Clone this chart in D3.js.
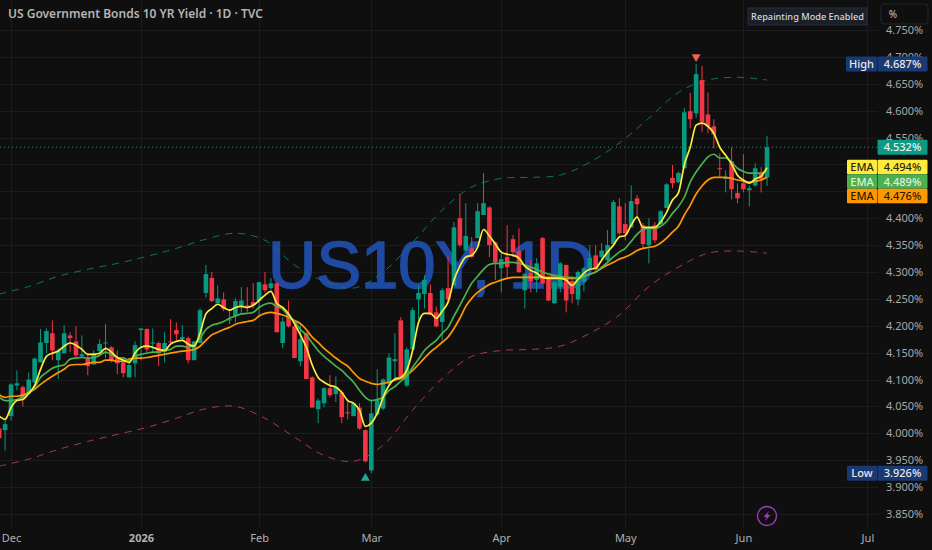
<!DOCTYPE html>
<html><head><meta charset="utf-8">
<script src="https://cdn.jsdelivr.net/npm/d3@7/dist/d3.min.js"></script>
<style>html,body{margin:0;padding:0;background:#0f0f0f}svg{display:block}text{font-family:"Noto Sans",sans-serif}</style>
</head><body><svg id="c" width="932" height="550"></svg>
<script>
const opens=[4.009,4.006,4.032,4.089,4.086,4.074,4.095,4.132,4.168,4.186,4.136,4.149,4.182,4.171,4.143,4.140,4.128,4.153,4.168,4.160,4.140,4.132,4.104,4.130,4.192,4.194,4.168,4.168,4.151,4.171,4.192,4.175,4.177,4.136,4.168,4.261,4.289,4.242,4.249,4.210,4.218,4.236,4.238,4.244,4.246,4.277,4.270,4.279,4.168,4.220,4.199,4.134,4.186,4.104,4.045,4.056,4.084,4.073,4.076,4.039,4.032,4.048,4.006,3.931,4.035,4.046,4.093,4.134,4.210,4.089,4.156,4.249,4.259,4.261,4.225,4.207,4.270,4.275,4.400,4.340,4.344,4.363,4.406,4.420,4.355,4.307,4.328,4.361,4.339,4.266,4.298,4.285,4.363,4.290,4.242,4.273,4.313,4.283,4.249,4.281,4.307,4.331,4.328,4.322,4.352,4.422,4.389,4.383,4.437,4.387,4.350,4.387,4.389,4.419,4.475,4.467,4.493,4.599,4.595,4.657,4.593,4.571,4.493,4.473,4.506,4.447,4.465,4.452,4.461,4.484,4.476];
const highs=[4.015,4.028,4.093,4.117,4.089,4.113,4.141,4.194,4.195,4.210,4.158,4.201,4.188,4.199,4.182,4.149,4.154,4.175,4.203,4.162,4.154,4.140,4.140,4.171,4.195,4.195,4.195,4.171,4.188,4.212,4.206,4.201,4.180,4.171,4.232,4.313,4.300,4.275,4.262,4.231,4.251,4.272,4.272,4.279,4.281,4.300,4.289,4.281,4.216,4.247,4.201,4.205,4.188,4.106,4.065,4.086,4.108,4.106,4.080,4.058,4.058,4.056,4.007,4.061,4.119,4.102,4.149,4.186,4.216,4.160,4.234,4.275,4.294,4.277,4.236,4.270,4.329,4.393,4.445,4.428,4.365,4.428,4.484,4.422,4.357,4.337,4.387,4.369,4.381,4.298,4.322,4.326,4.365,4.292,4.283,4.318,4.314,4.290,4.303,4.309,4.350,4.350,4.354,4.378,4.434,4.437,4.428,4.461,4.443,4.391,4.400,4.393,4.415,4.465,4.499,4.487,4.605,4.633,4.687,4.683,4.634,4.584,4.521,4.489,4.532,4.465,4.519,4.461,4.502,4.495,4.553];
const lows=[3.983,3.968,4.024,4.080,4.050,4.072,4.093,4.132,4.149,4.136,4.101,4.149,4.151,4.141,4.141,4.108,4.128,4.151,4.140,4.132,4.110,4.104,4.104,4.104,4.136,4.151,4.149,4.125,4.132,4.168,4.173,4.173,4.130,4.136,4.168,4.252,4.244,4.242,4.227,4.203,4.206,4.223,4.225,4.232,4.216,4.262,4.266,4.188,4.158,4.197,4.140,4.125,4.101,4.048,4.019,4.048,4.067,4.058,4.019,4.026,4.032,4.007,3.946,3.926,4.033,4.043,4.089,4.099,4.102,4.086,4.154,4.212,4.232,4.220,4.197,4.169,4.242,4.275,4.346,4.337,4.326,4.363,4.406,4.328,4.285,4.262,4.288,4.328,4.298,4.232,4.262,4.262,4.277,4.246,4.240,4.262,4.225,4.242,4.238,4.264,4.294,4.303,4.322,4.318,4.350,4.368,4.359,4.383,4.402,4.344,4.316,4.354,4.387,4.419,4.456,4.465,4.491,4.567,4.586,4.560,4.558,4.530,4.476,4.448,4.435,4.428,4.448,4.422,4.458,4.448,4.460];
const closes=[3.991,4.017,4.091,4.093,4.065,4.100,4.139,4.169,4.190,4.154,4.153,4.186,4.177,4.145,4.147,4.125,4.149,4.166,4.169,4.136,4.130,4.112,4.127,4.164,4.195,4.156,4.169,4.149,4.168,4.169,4.184,4.179,4.136,4.171,4.229,4.296,4.246,4.251,4.231,4.212,4.246,4.247,4.234,4.238,4.281,4.266,4.279,4.188,4.208,4.199,4.140,4.175,4.101,4.048,4.061,4.084,4.071,4.086,4.030,4.037,4.056,4.009,3.948,4.037,4.063,4.100,4.141,4.138,4.104,4.156,4.229,4.261,4.285,4.221,4.199,4.266,4.249,4.383,4.350,4.367,4.328,4.413,4.428,4.350,4.318,4.324,4.309,4.337,4.300,4.296,4.283,4.316,4.279,4.247,4.281,4.316,4.247,4.259,4.300,4.307,4.326,4.305,4.340,4.350,4.430,4.372,4.372,4.432,4.426,4.352,4.383,4.359,4.413,4.463,4.465,4.484,4.597,4.584,4.668,4.579,4.571,4.556,4.491,4.476,4.454,4.437,4.454,4.456,4.493,4.473,4.532];
const emaYellow=[4.032,4.026,4.048,4.061,4.063,4.074,4.089,4.119,4.143,4.149,4.153,4.162,4.168,4.164,4.156,4.147,4.147,4.149,4.158,4.151,4.141,4.136,4.132,4.149,4.160,4.162,4.160,4.156,4.154,4.166,4.171,4.173,4.166,4.162,4.186,4.222,4.232,4.240,4.234,4.229,4.234,4.236,4.234,4.238,4.247,4.257,4.264,4.242,4.234,4.222,4.204,4.183,4.160,4.127,4.104,4.095,4.089,4.086,4.076,4.061,4.056,4.043,4.013,4.019,4.037,4.067,4.089,4.101,4.104,4.117,4.154,4.206,4.223,4.223,4.214,4.227,4.244,4.285,4.311,4.328,4.331,4.346,4.379,4.367,4.352,4.337,4.333,4.331,4.326,4.311,4.303,4.298,4.290,4.288,4.288,4.288,4.285,4.275,4.286,4.298,4.305,4.307,4.322,4.337,4.350,4.365,4.368,4.387,4.402,4.383,4.383,4.383,4.393,4.411,4.434,4.447,4.499,4.532,4.573,4.577,4.571,4.558,4.532,4.517,4.501,4.480,4.471,4.465,4.473,4.478,4.494];
const emaGreen=[4.067,4.061,4.061,4.063,4.067,4.074,4.086,4.104,4.113,4.121,4.125,4.127,4.138,4.140,4.141,4.140,4.141,4.145,4.151,4.147,4.141,4.140,4.136,4.143,4.147,4.149,4.151,4.151,4.154,4.156,4.162,4.162,4.160,4.166,4.177,4.193,4.201,4.204,4.208,4.214,4.218,4.222,4.223,4.225,4.234,4.240,4.242,4.236,4.231,4.218,4.208,4.193,4.183,4.168,4.154,4.143,4.134,4.125,4.117,4.106,4.095,4.080,4.067,4.061,4.063,4.067,4.080,4.087,4.097,4.106,4.123,4.138,4.154,4.164,4.173,4.186,4.197,4.218,4.238,4.259,4.279,4.292,4.305,4.314,4.316,4.316,4.318,4.318,4.316,4.313,4.309,4.305,4.300,4.296,4.294,4.292,4.290,4.290,4.288,4.292,4.296,4.300,4.309,4.318,4.328,4.337,4.344,4.357,4.370,4.379,4.381,4.381,4.385,4.394,4.409,4.422,4.439,4.467,4.486,4.501,4.514,4.519,4.512,4.512,4.504,4.493,4.487,4.484,4.484,4.484,4.489];
const emaOrange=[4.072,4.067,4.069,4.069,4.071,4.076,4.082,4.091,4.099,4.106,4.113,4.119,4.127,4.128,4.128,4.130,4.132,4.132,4.136,4.136,4.134,4.134,4.138,4.140,4.140,4.141,4.143,4.145,4.147,4.149,4.151,4.153,4.154,4.156,4.162,4.173,4.183,4.188,4.193,4.197,4.203,4.206,4.208,4.210,4.218,4.223,4.225,4.223,4.220,4.216,4.210,4.204,4.193,4.179,4.169,4.158,4.149,4.140,4.132,4.125,4.113,4.102,4.097,4.093,4.091,4.093,4.095,4.099,4.102,4.108,4.117,4.128,4.140,4.151,4.160,4.169,4.179,4.195,4.214,4.236,4.251,4.262,4.270,4.277,4.281,4.285,4.288,4.290,4.290,4.290,4.290,4.290,4.290,4.290,4.290,4.290,4.288,4.288,4.288,4.292,4.296,4.300,4.307,4.313,4.318,4.324,4.328,4.333,4.340,4.344,4.346,4.348,4.354,4.363,4.374,4.385,4.406,4.424,4.445,4.460,4.471,4.476,4.476,4.476,4.474,4.471,4.469,4.467,4.469,4.471,4.476];
const bandDays=[0,5,10,15,20,25,30,35,40,45,50,55,60,65,70,75,80,85,90,95,100,105,110,115,120,125,130];
const bandUpper=[4.259,4.273,4.292,4.305,4.316,4.329,4.344,4.361,4.372,4.359,4.313,4.283,4.270,4.300,4.355,4.415,4.458,4.474,4.476,4.480,4.504,4.540,4.586,4.634,4.657,4.662,4.657];
const bandLower=[3.939,3.952,3.970,3.985,3.998,4.011,4.028,4.046,4.050,4.028,3.993,3.959,3.948,3.978,4.043,4.102,4.143,4.154,4.156,4.162,4.186,4.220,4.273,4.309,4.335,4.339,4.335];
const gridTicks=[3.85,3.9,3.95,4,4.05,4.1,4.15,4.2,4.25,4.3,4.35,4.4,4.45,4.5,4.55,4.6,4.65,4.7,4.75];
const priceTicks=[3.85,3.9,3.95,4,4.05,4.1,4.15,4.2,4.25,4.3,4.35,4.4,4.55,4.6,4.65,4.7,4.75];
const monthDays=[2,24,44,63,85,106,126,147];
const monthLabels=["Dec","2026","Feb","Mar","Apr","May","Jun","Jul"];
const emaTags=[["EMA",4.494,"#ffeb3b","#2a2410"],["EMA",4.489,"#4caf50","#dff2df"],["EMA",4.476,"#ff9800","#2a1800"]];
const lastPrice=4.532, highPrice=4.687, lowPrice=3.926, highDay=118, lowDay=62;
const title="US Government Bonds 10 YR Yield · 1D · TVC", watermark="US10Y, 1D", notice="Repainting Mode Enabled";

const W=932,H=550;
const x=d3.scaleLinear().domain([0,130]).range([-0.8,767]);
const y=d3.scaleLinear().domain([3.85,4.75]).range([514,30]);
const svg=d3.select("#c");
svg.append("rect").attr("width",W).attr("height",H).attr("fill","#0f0f0f");

// grid
const grid=svg.append("g").attr("stroke","#1c1c1c").attr("stroke-width",1);
grid.selectAll(".h").data(gridTicks).join("line").attr("x1",0).attr("x2",878).attr("y1",d=>Math.round(y(d))+.5).attr("y2",d=>Math.round(y(d))+.5);
grid.selectAll(".v").data(monthDays).join("line").attr("y1",0).attr("y2",528).attr("x1",d=>Math.round(x(d))+.5).attr("x2",d=>Math.round(x(d))+.5);

svg.append("text").attr("x",268).attr("y",288).attr("font-size",67).attr("fill","#1e4aa3")
  .attr("stroke","#1e4aa3").attr("stroke-width",1.6)
  .attr("style",'font-family:"Liberation Sans",sans-serif').text(watermark);

// bands
const bandLine=d3.line().x((d,i)=>x(bandDays[i])).y(d=>y(d)).curve(d3.curveCatmullRom);
svg.append("path").attr("d",bandLine(bandUpper)).attr("fill","none").attr("stroke","#0f7366").attr("stroke-width",1).attr("stroke-dasharray","7 6");
svg.append("path").attr("d",bandLine(bandLower)).attr("fill","none").attr("stroke","#a83464").attr("stroke-width",1).attr("stroke-dasharray","7 6");

// dotted last price
svg.append("line").attr("x1",0).attr("x2",878).attr("y1",y(lastPrice)).attr("y2",y(lastPrice)).attr("stroke","#089981").attr("stroke-width",1).attr("stroke-dasharray","1 3");

// candles
const UP="#089981",DN="#f23645";
const candles=svg.append("g");
const rows=opens.map((o,i)=>({i,o,h:highs[i],l:lows[i],c:closes[i]}));
candles.selectAll("line").data(rows).join("line")
  .attr("x1",d=>x(d.i)).attr("x2",d=>x(d.i)).attr("y1",d=>y(d.h)).attr("y2",d=>y(d.l))
  .attr("stroke",d=>d.c>=d.o?UP:DN).attr("stroke-width",1);
candles.selectAll("rect").data(rows).join("rect")
  .attr("x",d=>x(d.i)-2.3).attr("width",4.6)
  .attr("y",d=>y(Math.max(d.o,d.c))).attr("height",d=>Math.max(1,Math.abs(y(d.o)-y(d.c))))
  .attr("fill",d=>d.c>=d.o?UP:DN);

// EMA
const emaLine=d3.line().x((d,i)=>x(i)).y(d=>y(d)).curve(d3.curveMonotoneX);
[[emaOrange,"#ff9800"],[emaGreen,"#4caf50"],[emaYellow,"#ffeb3b"]].forEach(([s,c])=>{
  svg.append("path").attr("d",emaLine(s)).attr("fill","none").attr("stroke",c).attr("stroke-width",1.7).attr("stroke-linejoin","round");
});

// high/low markers
const tri=d3.symbol().type(d3.symbolTriangle).size(34);
svg.append("path").attr("d",tri()).attr("transform",`translate(${x(highDay)},${y(highPrice)-7}) rotate(180)`).attr("fill","#f2605a");
svg.append("path").attr("d",tri()).attr("transform",`translate(${x(lowDay)},${y(lowPrice)+5})`).attr("fill","#26a69a");

// axes
const axR=svg.append("g").attr("transform","translate(886,0)").call(d3.axisRight(y).tickValues(priceTicks).tickFormat(d=>d3.format(".3f")(d)+"%").tickSize(0).tickPadding(0));
axR.select(".domain").remove();
axR.selectAll("text").attr("fill","#a8a8a8").attr("font-size",11).style('font-family','"Noto Sans",sans-serif');
const axB=svg.append("g").attr("transform","translate(0,531)").call(d3.axisBottom(x).tickValues(monthDays).tickFormat((d,i)=>monthLabels[i]).tickSize(0).tickPadding(3));
axB.select(".domain").remove();
axB.selectAll("text").attr("fill","#b0b0b0").attr("font-size",11).style('font-family','"Noto Sans",sans-serif').attr("font-weight",(d,i)=>monthLabels[i]==="2026"?700:400);

// tags
function tag(x0,w,yc,h,bg,fg,txt,weight){
  svg.append("rect").attr("x",x0).attr("y",yc-h/2).attr("width",w).attr("height",h).attr("fill",bg).attr("rx",1);
  svg.append("text").attr("x",x0+w/2).attr("y",yc+4).attr("text-anchor","middle").attr("font-size",11).attr("font-weight",weight||500).attr("fill",fg).text(txt);
}
const fmt=d=>d3.format(".3f")(d)+"%";
tag(846,31,y(highPrice),15,"#1a3872","#e8e8e8","High");
tag(877.5,50,y(highPrice),15,"#1a3872","#e8e8e8",fmt(highPrice));
tag(847,30,y(lowPrice),15,"#1a3872","#e8e8e8","Low");
tag(877.5,50,y(lowPrice),15,"#1a3872","#e8e8e8",fmt(lowPrice));
tag(877.5,50,y(lastPrice),15,"#0a9a86","#f0f0f0",fmt(lastPrice));
const tagRow=[167,181.5,196];
emaTags.forEach((t,i)=>{
  tag(847,30,tagRow[i],14.5,t[2],t[3],t[0]);
  tag(877.5,50,tagRow[i],14.5,t[2],t[3],fmt(t[1]));
});

// top texts
svg.append("text").attr("x",8).attr("y",18).attr("font-size",12).attr("font-weight",600).attr("fill","#b4b4b4").text(title);
svg.append("rect").attr("x",748).attr("y",8).attr("width",119).attr("height",17).attr("fill","#1b1f2a").attr("stroke","#2a2e39");
svg.append("text").attr("x",807.5).attr("y",20).attr("text-anchor","middle").attr("font-size",9.2).attr("font-weight",500).attr("fill","#d8d8d8").text(notice);
svg.append("rect").attr("x",881).attr("y",4).attr("width",47).attr("height",20).attr("rx",3).attr("fill","#0f0f0f").attr("stroke","#262626");
svg.append("text").attr("x",893).attr("y",18).attr("text-anchor","middle").attr("font-size",10).attr("fill","#c8c8c8").text("%");

// bolt icon
svg.append("circle").attr("cx",767).attr("cy",516).attr("r",9.5).attr("fill","none").attr("stroke","#a23cc0").attr("stroke-width",1.3);
svg.append("path").attr("d","M769 511 L763.5 517 L766.5 517 L765 521 L770.5 515 L767.5 515 Z").attr("fill","#a23cc0");
</script></body></html>
